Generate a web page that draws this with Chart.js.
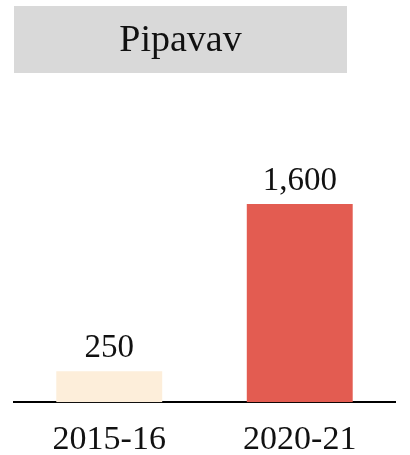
<!DOCTYPE html>
<html>
<head>
<meta charset="utf-8">
<script src="https://cdn.jsdelivr.net/npm/chart.js@4"></script>
<style>
  html, body { margin: 0; padding: 0; background: #fff; }
  #wrap { width: 410px; height: 455px; }
</style>
</head>
<body>
<div id="wrap"><canvas id="myChart" width="410" height="455"></canvas></div>
<script>
const titleText = "Pipavav";
const categories = ["2015-16", "2020-21"];
const values = [250, 1600];
const barColors = ["#FDEEDA", "#E35C51"];
const yMax = 2560;

const fontFamily = "'Liberation Serif', 'DejaVu Serif', serif";

// gray title box on top
const titleBox = {
    id: "titleBox",
    beforeDraw(chart) {
        const ctx = chart.ctx;
        ctx.save();
        ctx.fillStyle = "#D9D9D9";
        ctx.fillRect(14, 6, 333, 67);
        ctx.fillStyle = "#111";
        ctx.font = "38px " + fontFamily;
        ctx.textAlign = "center";
        ctx.textBaseline = "middle";
        ctx.fillText(titleText, 180.5, 41);
        ctx.restore();
    }
};

// value labels above bars
const valueLabels = {
    id: "valueLabels",
    afterDatasetsDraw(chart) {
        const ctx = chart.ctx;
        const meta = chart.getDatasetMeta(0);
        ctx.save();
        ctx.fillStyle = "#111";
        ctx.font = "33px " + fontFamily;
        ctx.textAlign = "center";
        ctx.textBaseline = "middle";
        meta.data.forEach((bar, i) => {
            ctx.fillText(values[i].toLocaleString("en-US"), bar.x, bar.y - 23);
        });
        ctx.restore();
    }
};

new Chart(document.getElementById("myChart").getContext("2d"), {
    type: "bar",
    data: {
        labels: categories,
        datasets: [{
            data: values,
            backgroundColor: barColors,
            borderWidth: 0,
            barPercentage: 0.556,
            categoryPercentage: 1
        }]
    },
    options: {
        responsive: false,
        animation: false,
        layout: { padding: { top: 85, left: 14, right: 15, bottom: -22 } },
        plugins: {
            legend: { display: false },
            tooltip: { enabled: false }
        },
        scales: {
            x: {
                grid: { display: false, drawTicks: false },
                border: { display: true, color: "#000", width: 2 },
                ticks: {
                    color: "#111",
                    padding: 17,
                    font: { family: fontFamily, size: 34 }
                }
            },
            y: {
                display: false,
                min: 0,
                max: yMax
            }
        }
    },
    plugins: [titleBox, valueLabels]
});
</script>
</body>
</html>
